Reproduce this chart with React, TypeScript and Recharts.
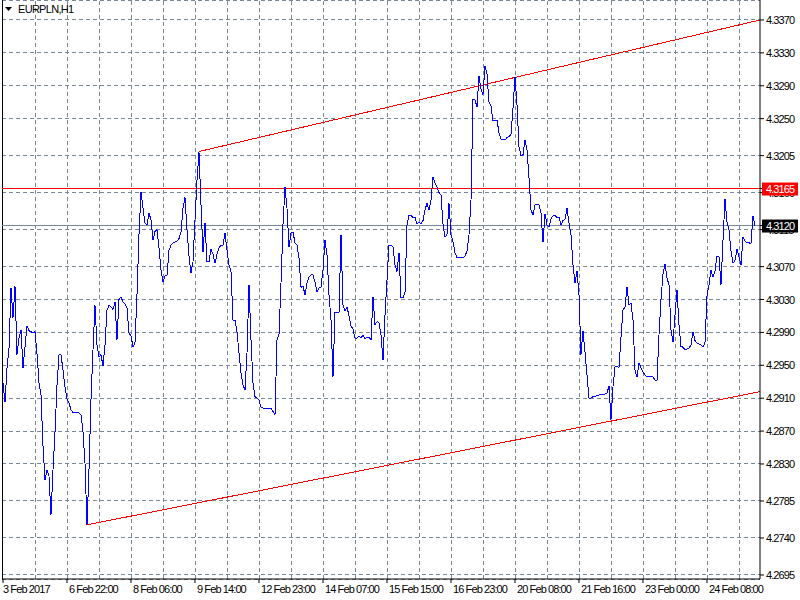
import { LineChart, Line, XAxis, YAxis, CartesianGrid, ReferenceLine } from 'recharts'

// EURPLN H1 closes, one per bar
const CLOSE = [
  4.2929, 4.2905, 4.2947, 4.2971, 4.3044, 4.3008, 4.3046, 4.2963, 4.2983, 4.2993, 4.2947, 4.2972, 4.2998, 4.2992, 4.2991, 4.2989,
  4.2991, 4.2964, 4.2929, 4.2914, 4.2852, 4.2811, 4.2823, 4.2815, 4.2768, 4.2823, 4.2868, 4.2926, 4.2963, 4.2963, 4.2944, 4.2924,
  4.2909, 4.2904, 4.2896, 4.2892, 4.2892, 4.2892, 4.2892, 4.289, 4.2869, 4.2831, 4.2756, 4.2823, 4.2908, 4.2969, 4.3023, 4.2975,
  4.296, 4.2963, 4.2949, 4.2975, 4.3017, 4.3023, 4.3021, 4.3018, 4.3027, 4.2981, 4.303, 4.3033, 4.3027, 4.3025, 4.302, 4.2989,
  4.2986, 4.2972, 4.2978, 4.3036, 4.3109, 4.3161, 4.3141, 4.3123, 4.3121, 4.3135, 4.3127, 4.3102, 4.3113, 4.3115, 4.3093, 4.3066,
  4.3051, 4.3059, 4.3059, 4.309, 4.3096, 4.3099, 4.31, 4.3101, 4.3104, 4.3112, 4.3141, 4.3154, 4.3115, 4.3083, 4.3062, 4.3076,
  4.3127, 4.3175, 4.3209, 4.3145, 4.3088, 4.3123, 4.3076, 4.3076, 4.3091, 4.3085, 4.3074, 4.3085, 4.3093, 4.3096, 4.3096, 4.3111,
  4.309, 4.3072, 4.3064, 4.3005, 4.3005, 4.2991, 4.2965, 4.2941, 4.2926, 4.292, 4.2965, 4.3048, 4.2981, 4.2929, 4.2912, 4.291,
  4.2908, 4.2899, 4.2898, 4.2898, 4.2898, 4.2898, 4.2898, 4.2894, 4.289, 4.2981, 4.2987, 4.305, 4.3121, 4.3167, 4.3141, 4.3094,
  4.3111, 4.3112, 4.3099, 4.3096, 4.3081, 4.3045, 4.3046, 4.3036, 4.305, 4.3057, 4.306, 4.306, 4.3051, 4.3039, 4.3044, 4.3045,
  4.3066, 4.3102, 4.3084, 4.3036, 4.3005, 4.2936, 4.3014, 4.3014, 4.3014, 4.3109, 4.3023, 4.3016, 4.3021, 4.301, 4.2998, 4.2994,
  4.2983, 4.2983, 4.2986, 4.2983, 4.2987, 4.2982, 4.2984, 4.2984, 4.2981, 4.3033, 4.2999, 4.3003, 4.3002, 4.2987, 4.2956, 4.3011,
  4.3054, 4.3096, 4.3096, 4.3094, 4.3072, 4.3064, 4.3087, 4.3032, 4.3032, 4.3039, 4.3121, 4.3133, 4.3132, 4.313, 4.313, 4.3122,
  4.3124, 4.3122, 4.3126, 4.3139, 4.3147, 4.3139, 4.3151, 4.3179, 4.3172, 4.3167, 4.316, 4.3157, 4.3122, 4.3106, 4.3109, 4.3147,
  4.3109, 4.31, 4.3087, 4.3081, 4.3081, 4.3081, 4.3081, 4.3083, 4.3089, 4.3109, 4.3151, 4.3273, 4.3273, 4.3264, 4.3302, 4.3286,
  4.3279, 4.3314, 4.3304, 4.327, 4.3265, 4.3247, 4.3248, 4.3248, 4.3233, 4.3225, 4.3225, 4.3224, 4.3227, 4.3228, 4.3231, 4.3263,
  4.3301, 4.3267, 4.3216, 4.3205, 4.3206, 4.3224, 4.3212, 4.3178, 4.3139, 4.3133, 4.3145, 4.3145, 4.3145, 4.3135, 4.31, 4.3134,
  4.3121, 4.3118, 4.3128, 4.3132, 4.3132, 4.313, 4.313, 4.3121, 4.3126, 4.3128, 4.3141, 4.3123, 4.3109, 4.3072, 4.305, 4.3065,
  4.3036, 4.2963, 4.2992, 4.2966, 4.2938, 4.291, 4.291, 4.2912, 4.2912, 4.2913, 4.2914, 4.2915, 4.2915, 4.2915, 4.2916, 4.2925,
  4.2884, 4.2924, 4.2948, 4.2949, 4.2947, 4.2984, 4.3017, 4.3021, 4.3045, 4.3023, 4.3026, 4.3005, 4.2944, 4.2936, 4.2953, 4.2947,
  4.2942, 4.2938, 4.2936, 4.2936, 4.2936, 4.2936, 4.2932, 4.2932, 4.2987, 4.303, 4.3061, 4.3073, 4.3056, 4.3048, 4.2993, 4.2978,
  4.3011, 4.3042, 4.2999, 4.2973, 4.2972, 4.2969, 4.297, 4.2971, 4.2975, 4.2991, 4.298, 4.2977, 4.2976, 4.2975, 4.2972, 4.2978,
  4.3034, 4.3048, 4.3066, 4.3057, 4.3065, 4.3083, 4.3082, 4.3048, 4.3102, 4.3152, 4.3124, 4.3115, 4.3089, 4.3074, 4.3078, 4.3091,
  4.3082, 4.3072, 4.3106, 4.3101, 4.3099, 4.3099, 4.3098, 4.3132, 4.312,
]

const TIME_LABEL_BARS = [0, 32, 64, 96, 128, 160, 192, 224, 256, 288, 320, 352]
const TIME_LABELS = [
  '3 Feb 2017', '6 Feb 22:00', '8 Feb 06:00', '9 Feb 14:00', '12 Feb 23:00', '14 Feb 07:00',
  '15 Feb 15:00', '16 Feb 23:00', '20 Feb 08:00', '21 Feb 16:00', '23 Feb 00:00', '24 Feb 08:00',
]
const GRID_BARS = [16, 32, 48, 64, 80, 96, 112, 128, 144, 160, 176, 192, 208, 224, 240, 256, 272, 288, 304, 320, 336, 352, 368]

const PRICE_TICKS = [
  4.337, 4.333, 4.329, 4.325, 4.3205, 4.316, 4.3115, 4.307, 4.303,
  4.299, 4.295, 4.291, 4.287, 4.283, 4.2785, 4.274, 4.2695,
]
const PRICE_MIN = 4.26901
const PRICE_MAX = 4.33943

const LEVEL = 4.3165
const BID = 4.312
const UPPER_TREND = [{ x: 98, y: 4.321 }, { x: 378.5, y: 4.337 }]
const LOWER_TREND = [{ x: 42, y: 4.2756 }, { x: 378.5, y: 4.2918 }]

const FONT = "Tahoma, 'Liberation Sans', sans-serif"
const GRID = '#778899'

const data = CLOSE.map((close, bar) => ({ bar, close }))

function TimeTick(props: any) {
  const { x, y, payload } = props
  const k = TIME_LABEL_BARS.indexOf(payload.value)
  return (
    <text x={k === 0 ? x : x + 2} y={y + 8} fontSize={11} letterSpacing={-0.9} fontFamily={FONT} fill="#000">
      {TIME_LABELS[k]}
    </text>
  )
}

// scale labels; the level and bid values come last and get a filled box on top
function PriceTick(props: any) {
  const { x, y, payload } = props
  const v = payload.value
  if (v === LEVEL || v === BID) {
    return (
      <g>
        <rect x={x - 4} y={y - 6} width={36} height={13} fill={v === LEVEL ? '#ff0000' : '#000'} />
        <text x={x} y={y + 4} fontSize={11} letterSpacing={-0.9} fontFamily={FONT} fill="#fff">
          {v.toFixed(4)}
        </text>
      </g>
    )
  }
  return (
    <text x={x} y={y + 4} fontSize={11} letterSpacing={-0.9} fontFamily={FONT} fill="#000">
      {v.toFixed(4)}
    </text>
  )
}

export default function App() {
  return (
    <div style={{ position: 'absolute', left: 0, top: 0, width: 800, height: 600, background: '#fff' }}>
      <LineChart width={800} height={600} data={data} margin={{ top: 0, right: 0, bottom: 0, left: 2 }}>
        <CartesianGrid vertical={false} stroke={GRID} strokeDasharray="4 3" shapeRendering="crispEdges" />
        {GRID_BARS.map((b) => (
          <ReferenceLine key={b} x={b} stroke={GRID} strokeDasharray="4 3" shapeRendering="crispEdges" />
        ))}
        <XAxis
          type="number"
          dataKey="bar"
          domain={[-0.5, 378.5]}
          allowDataOverflow
          ticks={TIME_LABEL_BARS}
          interval={0}
          height={21}
          axisLine={{ stroke: '#000' }}
          tickLine={{ stroke: '#000' }}
          tickSize={4}
          tickMargin={2}
          tick={<TimeTick />}
        />
        <YAxis
          orientation="right"
          type="number"
          width={40}
          domain={[PRICE_MIN, PRICE_MAX]}
          allowDataOverflow
          ticks={[...PRICE_TICKS, LEVEL, BID]}
          interval={0}
          axisLine={{ stroke: '#000' }}
          tickLine={{ stroke: '#000' }}
          tickSize={4}
          tickMargin={2}
          tick={<PriceTick />}
        />
        <ReferenceLine x={-0.5} stroke="#000" shapeRendering="crispEdges" />
        <ReferenceLine y={BID} stroke={GRID} shapeRendering="crispEdges" />
        <ReferenceLine y={LEVEL} stroke="#ff0000" shapeRendering="crispEdges" />
        <ReferenceLine segment={UPPER_TREND} stroke="#ff0000" shapeRendering="crispEdges" />
        <ReferenceLine segment={LOWER_TREND} stroke="#ff0000" shapeRendering="crispEdges" />
        <Line
          type="linear"
          dataKey="close"
          stroke="#0000ff"
          strokeWidth={1}
          dot={false}
          activeDot={false}
          shapeRendering="crispEdges"
          isAnimationActive={false}
        />
      </LineChart>
      <div
        style={{
          position: 'absolute',
          left: 5,
          top: 3,
          display: 'flex',
          alignItems: 'center',
          gap: 6,
          fontFamily: FONT,
          fontSize: 11,
          letterSpacing: -0.7,
          color: '#000',
        }}
      >
        <svg width="7" height="4">
          <polygon points="0,0 7,0 3.5,4" fill="#000" />
        </svg>
        <span>EURPLN,H1</span>
      </div>
    </div>
  )
}
